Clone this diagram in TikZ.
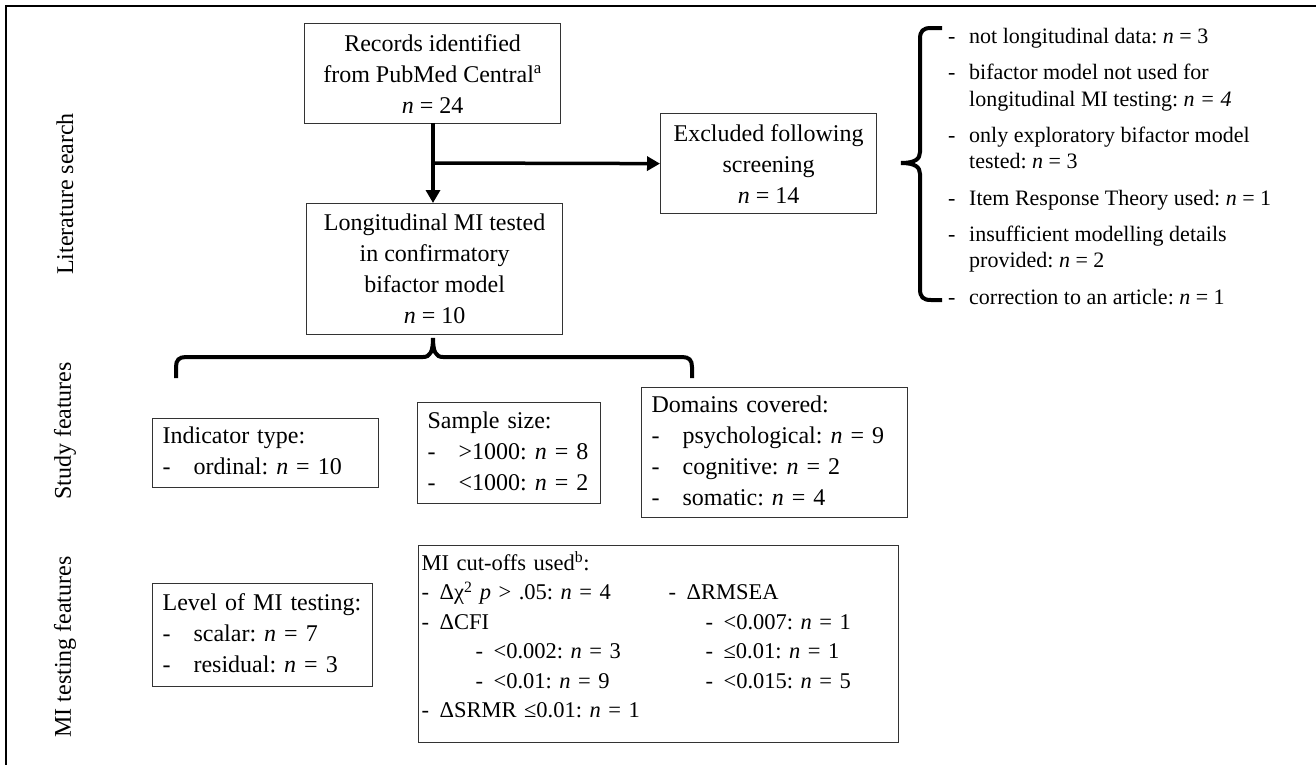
\documentclass[tikz,border=0pt]{standalone}
\usepackage{fontspec}
\setmainfont{Liberation Serif}
\usetikzlibrary{arrows.meta}
\frenchspacing
\newcommand{\bigfs}{\fontsize{24}{31}\selectfont}
\newcommand{\listfs}{\fontsize{22}{26.3}\selectfont}
\newcommand{\mifs}{\fontsize{22.5}{29.5}\selectfont}
\newcommand{\nval}{\textit{n}}
\newcommand{\bdash}{\makebox[31pt][l]{-}}
\newcommand{\mdash}{\makebox[18pt][l]{-}}
\newcommand{\rdash}{\makebox[21pt][l]{-}}
\begin{document}
\begin{tikzpicture}[x=1pt,y=-1pt,
  box/.style={draw=black!80, line width=1.2pt, anchor=north west, inner ysep=0pt, font=\bigfs},
  cbox/.style={box, align=center, inner xsep=3pt},
  lbox/.style={box, align=left, inner xsep=10pt},
  arr/.style={line width=3.5pt, -{Triangle[length=13pt,width=14pt]}},
  brace/.style={line width=4pt, line cap=butt},
  side/.style={rotate=90, font=\bigfs, inner sep=0pt}]
\useasboundingbox (0,0) rectangle (1316,764);
% outer frame (top and left)
\draw[line width=2.5pt] (6,770) -- (6,6) -- (1320,6);
% side labels
\node[side] (lit) at (65,194) {Literature search};
\node[side] (stu) at (65,431) {Study features};
\node[side] (mit) at (65,647) {MI testing features};
% flow boxes
\node[cbox, minimum width=256pt, minimum height=100pt] (rec) at (304,23)
  {Records identified\\from PubMed Central\textsuperscript{a}\\\nval{} = 24};
\node[cbox, minimum width=256pt, minimum height=131pt] (lon) at (306,203)
  {Longitudinal MI tested\\in confirmatory\\bifactor model\\\nval{} = 10};
\node[cbox, minimum width=216pt, minimum height=100pt] (exc) at (660,113)
  {Excluded following\\screening\\\nval{} = 14};
\coordinate (top) at (433,123);
\coordinate (bot) at (433,203);
\coordinate (junc) at (433,163);
\draw[line width=3.5pt] (top) -- (junc);
\draw[arr] (junc) -- (bot);
\draw[arr] (junc) -- (exc.west);
% right brace
\draw[brace] (942,28) -- (931,28) .. controls (923,28) and (920,31) .. (920,39)
  -- (920,152) .. controls (920,159) and (915,163) .. (901,163)
  .. controls (915,163) and (920,167) .. (920,174)
  -- (920,289) .. controls (920,297) and (923,300) .. (931,300) -- (942,300);
\node[anchor=north west, inner sep=0pt, font=\listfs] (excl) at (948,25)
  {\begin{tabular}{@{}l@{}l@{}}
   \rdash & not longitudinal data: \nval{} = 3\\[10pt]
   \rdash & bifactor model not used for\\
          & longitudinal MI testing: \textit{n = 4}\\[10pt]
   \rdash & only exploratory bifactor model\\
          & tested: \nval{} = 3\\[10pt]
   \rdash & Item Response Theory used: \nval{} = 1\\[10pt]
   \rdash & insufficient modelling details\\
          & provided: \nval{} = 2\\[10pt]
   \rdash & correction to an article: \nval{} = 1
   \end{tabular}};
% bottom brace
\draw[brace] (176,378) -- (176,367) .. controls (176,360) and (179,357) .. (186,357)
  -- (423,357) .. controls (430,357) and (433,352) .. (433,338)
  .. controls (433,352) and (436,357) .. (443,357)
  -- (682,357) .. controls (689,357) and (692,360) .. (692,367) -- (692,378);
% study features
\node[lbox, text width=206pt, minimum height=69pt] (ind) at (152,418)
  {\begin{tabular}{@{}l@{}}Indicator type:\\\bdash ordinal: \nval{} = 10\end{tabular}};
\node[lbox, text width=163pt, minimum height=101pt] (sam) at (417,402)
  {\begin{tabular}{@{}l@{}}Sample size:\\\bdash >1000: \nval{} = 8\\\bdash <1000: \nval{} = 2\end{tabular}};
\node[lbox, text width=246pt, minimum height=130pt] (dom) at (641,387)
  {\begin{tabular}{@{}l@{}}Domains covered:\\\bdash psychological: \nval{} = 9\\\bdash cognitive: \nval{} = 2\\\bdash somatic: \nval{} = 4\end{tabular}};
% MI testing features
\node[lbox, text width=200pt, minimum height=103pt] (lev) at (152,583)
  {\begin{tabular}{@{}l@{}}Level of MI testing:\\\bdash scalar: \nval{} = 7\\\bdash residual: \nval{} = 3\end{tabular}};
\node[box, align=left, inner xsep=3pt, text width=474pt, minimum height=197pt, font=\mifs] (cut) at (418,545)
  {\begin{tabular}{@{}p{247pt}@{}l@{}}
   MI cut-offs used\textsuperscript{b}: & \\
   \mdash Δχ\textsuperscript{2} \textit{p} > .05: \nval{} = 4 & \mdash ΔRMSEA\\
   \mdash ΔCFI & \hspace{37pt}\mdash <0.007: \nval{} = 1\\
   \hspace{54pt}\mdash <0.002: \nval{} = 3 & \hspace{37pt}\mdash ≤0.01: \nval{} = 1\\
   \hspace{54pt}\mdash <0.01: \nval{} = 9 & \hspace{37pt}\mdash <0.015: \nval{} = 5\\
   \mdash ΔSRMR ≤0.01: \nval{} = 1 & \\[12pt]
   \end{tabular}};
\end{tikzpicture}
\end{document}
